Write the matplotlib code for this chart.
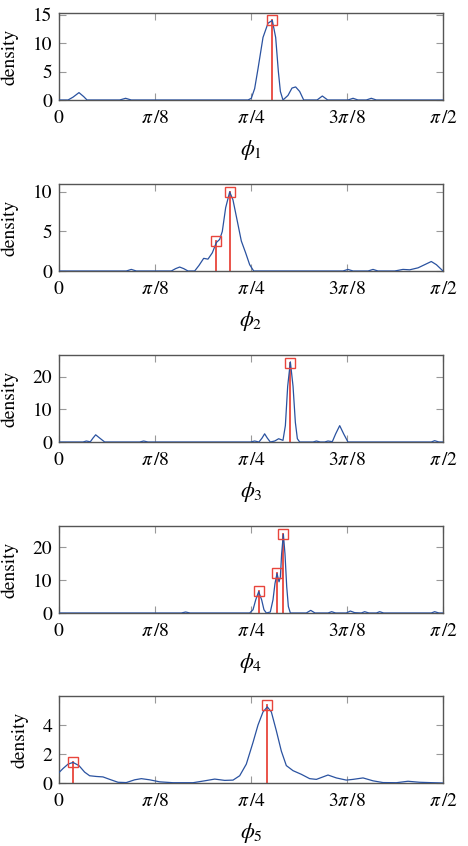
import numpy as np
import matplotlib
matplotlib.use("Agg")
import matplotlib.pyplot as plt

plt.rcParams['font.family'] = ['STIXGeneral', 'DejaVu Serif']
plt.rcParams['mathtext.fontset'] = 'stix'

# x positions are given in units of pi/8
phi1_x = [0, 0.094, 0.146, 0.208, 0.257, 0.292, 0.632, 0.694, 0.753, 1.969, 2.003, 2.038, 2.073,
          2.125, 2.177, 2.222, 2.257, 2.285, 2.306, 2.333, 2.385, 2.427, 2.465, 2.507, 2.549, 2.688,
          2.743, 2.799, 3.010, 3.063, 3.115, 3.201, 3.253, 3.306, 4.0]
phi1_y = [0, 0, 0.5, 1.3, 0.6, 0, 0, 0.3, 0, 0, 0.3, 2.0, 5.5,
          11, 13.5, 14.0, 11, 5, 1.5, 0, 0.8, 2.1, 2.3, 1.5, 0, 0,
          0.7, 0, 0, 0.3, 0, 0, 0.3, 0, 0]
phi1_modes_x = [2.222]
phi1_modes_y = [14.0]

phi2_x = [0, 0.701, 0.753, 0.806, 1.170, 1.215, 1.257, 1.299, 1.344, 1.413, 1.458, 1.507, 1.552,
          1.597, 1.639, 1.674, 1.701, 1.736, 1.778, 1.812, 1.854, 1.899, 1.944, 1.986, 2.028,
          2.958, 3.010, 3.063, 3.219, 3.271, 3.323, 3.497, 3.583, 3.653, 3.740, 3.809, 3.878,
          3.931, 4.0]
phi2_y = [0, 0, 0.2, 0, 0, 0.3, 0.5, 0.3, 0, 0, 0.7, 1.6, 1.5,
          2.3, 3.6, 4.0, 5.0, 8.0, 10.0, 9.0, 6.5, 3.8, 2.3, 0.8, 0,
          0, 0.2, 0, 0, 0.2, 0, 0, 0.2, 0.15, 0.4, 0.8, 1.2,
          0.8, 0]
phi2_modes_x = [1.639, 1.778]
phi2_modes_y = [3.8, 10.0]

phi3_x = [0, 0.25, 0.285, 0.326, 0.354, 0.382, 0.424, 0.476, 0.840, 0.882, 0.927, 1.993, 2.038,
          2.083, 2.115, 2.142, 2.170, 2.201, 2.247, 2.288, 2.333, 2.358, 2.382, 2.410, 2.438,
          2.462, 2.483, 2.507, 2.646, 2.681, 2.722, 2.767, 2.802, 2.847, 2.882, 2.924, 2.965,
          3.010, 3.878, 3.913, 3.958, 4.0]
phi3_y = [0, 0, 0.3, 0.05, 1.2, 2.2, 1.2, 0, 0, 0.3, 0, 0, 0.3,
          0, 1.2, 2.5, 1.2, 0, 0.3, 1.0, 0.5, 5, 17, 24.5, 17,
          6, 1.0, 0, 0, 0.3, 0, 0, 0.3, 0.1, 2.5, 5.0, 2.5,
          0, 0, 0.4, 0, 0]
phi3_modes_x = [2.410]
phi3_modes_y = [24.3]

phi4_x = [0, 1.274, 1.319, 1.365, 1.986, 2.021, 2.049, 2.080, 2.111, 2.135, 2.160, 2.201, 2.229,
          2.250, 2.271, 2.292, 2.306, 2.319, 2.337, 2.354, 2.372, 2.389, 2.410, 2.576, 2.622,
          2.667, 2.802, 2.840, 2.882, 2.993, 3.035, 3.080, 3.149, 3.184, 3.229, 3.306, 3.340,
          3.382, 3.878, 3.913, 3.958, 4.0]
phi4_y = [0, 0, 0.3, 0, 0, 1.0, 4.0, 6.5, 4.0, 1.0, 0, 0.3, 4,
          9, 12.0, 9.5, 11, 18, 24, 18, 8, 2, 0, 0, 0.8,
          0, 0, 0.4, 0, 0, 0.6, 0.1, 0, 0.4, 0, 0, 0.4,
          0, 0, 0.4, 0, 0]
phi4_modes_x = [2.080, 2.271, 2.337]
phi4_modes_y = [6.6, 12.2, 24.0]

phi5_x = [0, 0.042, 0.094, 0.146, 0.208, 0.267, 0.319, 0.389, 0.458, 0.528, 0.615, 0.701, 0.788,
          0.858, 0.944, 1.049, 1.188, 1.396, 1.517, 1.622, 1.726, 1.813, 1.882, 1.951, 2.021,
          2.073, 2.125, 2.170, 2.212, 2.264, 2.316, 2.368, 2.438, 2.524, 2.611, 2.681, 2.802,
          2.889, 2.993, 3.063, 3.167, 3.271, 3.375, 3.514, 3.635, 3.757, 3.896, 4.0]
phi5_y = [0.72, 1.0, 1.3, 1.42, 1.2, 0.75, 0.5, 0.45, 0.42, 0.25, 0.05, 0.03, 0.22,
          0.3, 0.22, 0.08, 0.02, 0.02, 0.15, 0.27, 0.18, 0.2, 0.5, 1.3, 2.8,
          4.0, 4.9, 5.25, 4.9, 3.6, 2.2, 1.2, 0.85, 0.6, 0.3, 0.25, 0.55,
          0.35, 0.2, 0.25, 0.35, 0.15, 0.03, 0.02, 0.12, 0.05, 0.02, 0]
phi5_modes_x = [0.146, 2.170]
phi5_modes_y = [1.44, 5.35]

xlabels = [r'$\phi_1$', r'$\phi_2$', r'$\phi_3$', r'$\phi_4$', r'$\phi_5$']
xtick_labels = ['$0$', r'$\pi\,/8$', r'$\pi\,/4$', r'$3\pi\,/8$', r'$\pi\,/2$']
yticks = [[0, 5, 10, 15], [0, 5, 10], [0, 10, 20], [0, 10, 20], [0, 2, 4]]
ymax = [15.3, 11.0, 26.6, 26.5, 6.0]

series = [(phi1_x, phi1_y, phi1_modes_x, phi1_modes_y),
          (phi2_x, phi2_y, phi2_modes_x, phi2_modes_y),
          (phi3_x, phi3_y, phi3_modes_x, phi3_modes_y),
          (phi4_x, phi4_y, phi4_modes_x, phi4_modes_y),
          (phi5_x, phi5_y, phi5_modes_x, phi5_modes_y)]

unit = np.pi / 8
blue = '#2a52a0'
red = '#e8453c'

fig = plt.figure(figsize=(4.68, 8.46), dpi=100)
tops_px = [13, 184, 355, 526, 696]
h_px = 87
for i, (xs, ys, mx, my) in enumerate(series):
    bottom = 1 - (tops_px[i] + h_px) / 846
    ax = fig.add_axes([59 / 468, bottom, 384 / 468, h_px / 846])
    x = np.array(xs) * unit
    ax.plot(x, ys, color=blue, lw=0.9, zorder=3)
    for xm, ym in zip(mx, my):
        ax.plot([xm * unit, xm * unit], [0, ym], color=red, lw=1.3, zorder=2)
    ax.plot(np.array(mx) * unit, my, linestyle='none', marker='s', markersize=7,
            markerfacecolor='none', markeredgecolor=red, markeredgewidth=1.0, zorder=4)
    ax.set_xlim(0, np.pi / 2)
    ax.set_ylim(0, ymax[i])
    ax.set_xticks(np.arange(5) * unit)
    ax.set_xticklabels(xtick_labels)
    ax.set_yticks(yticks[i])
    ax.tick_params(direction='in', length=5, width=0.8, color='#999999',
                   top=True, right=True, labelsize=14)
    ax.tick_params(axis='x', pad=7)
    ax.tick_params(axis='y', pad=5)
    for s in ax.spines.values():
        s.set_color('#555555')
        s.set_linewidth(1.0)
    ax.set_ylabel('density', fontsize=14, labelpad=10)
    ax.set_xlabel(xlabels[i], fontsize=16, labelpad=8)

fig.savefig('out.png', dpi=100)
